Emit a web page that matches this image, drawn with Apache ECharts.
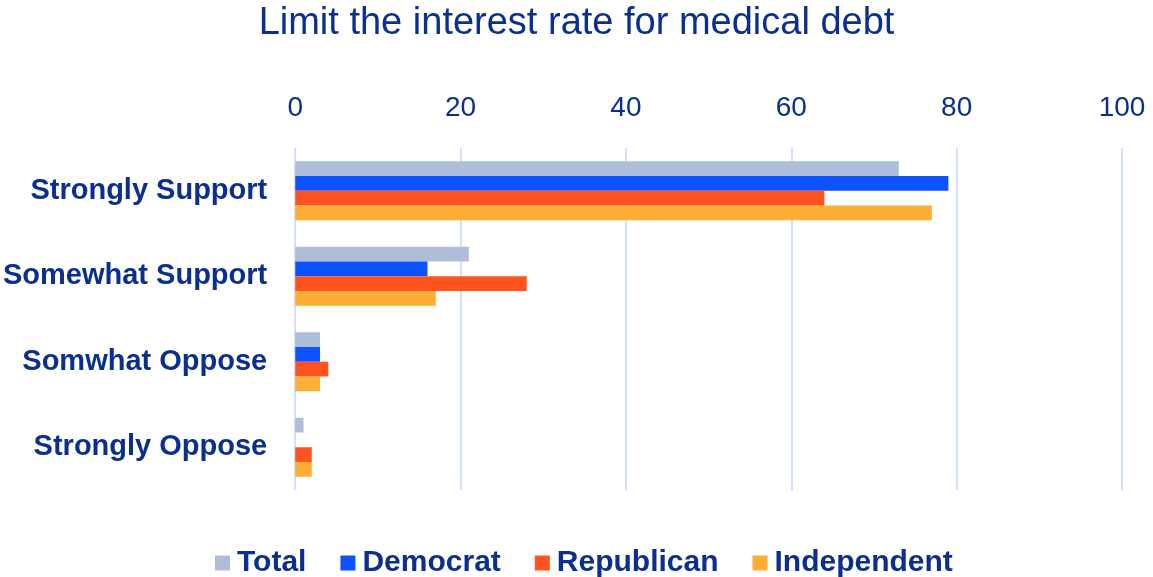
<!DOCTYPE html>
<html>
<head>
<meta charset="utf-8">
<script src="https://cdn.jsdelivr.net/npm/echarts@6/dist/echarts.min.js"></script>
<style>
html, body { margin: 0; padding: 0; background: #fff; }
#main { width: 1153px; height: 577px; }
</style>
</head>
<body>
<div id="main"></div>
<script>
// data
var categories = ['Strongly Support', 'Somewhat Support', 'Somwhat Oppose', 'Strongly Oppose'];
var total = [73, 21, 3, 1];
var democrat = [79, 16, 3, 0];
var republican = [64, 28, 4, 2];
var independent = [77, 17, 3, 2];

var textBlue = '#0b2f8f';
var myChart = echarts.init(document.getElementById('main'));

function bar(name, data, color) {
    return {
        name: name,
        type: 'bar',
        data: data,
        barGap: '0%',
        barCategoryGap: '31%',
        itemStyle: { color: color }
    };
}

option = {
    animation: false,
    textStyle: { fontFamily: 'Liberation Sans' },
    title: {
        text: 'Limit the interest rate for medical debt',
        left: 'center',
        top: 0,
        textStyle: { color: textBlue, fontSize: 38, fontWeight: 'normal' }
    },
    legend: {
        top: 548,
        left: 215,
        padding: 0,
        itemWidth: 15,
        itemHeight: 15,
        itemGap: 34,
        icon: 'rect',
        textStyle: { color: textBlue, fontSize: 30, fontWeight: 'bold', padding: [0, 0, 0, 2] },
        data: ['Total', 'Democrat', 'Republican', 'Independent']
    },
    grid: { left: 295, right: 31, top: 148, bottom: 87, containLabel: false },
    xAxis: {
        type: 'value',
        position: 'top',
        min: 0,
        max: 100,
        interval: 20,
        axisLine: { show: false },
        axisTick: { show: false },
        axisLabel: { color: textBlue, fontSize: 28, margin: 26 },
        splitLine: { lineStyle: { color: '#d3e0fb', width: 2 } }
    },
    yAxis: {
        type: 'category',
        inverse: true,
        data: categories,
        axisLine: { show: false },
        axisTick: { show: false },
        axisLabel: { color: textBlue, fontSize: 29, fontWeight: 'bold', margin: 28 }
    },
    series: [
        bar('Total', total, '#afbdd9'),
        bar('Democrat', democrat, '#0d52ff'),
        bar('Republican', republican, '#ff5420'),
        bar('Independent', independent, '#ffae35')
    ]
};
myChart.setOption(option);
</script>
</body>
</html>
